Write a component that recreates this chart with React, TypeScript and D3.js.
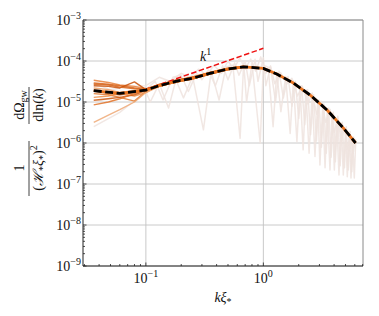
import React, { useEffect, useRef } from 'react'
import * as d3 from 'd3'

// mean spectrum (black dashed, orange underneath)
const meanK = [0.036, 0.06, 0.1, 0.13, 0.18, 0.25, 0.35, 0.49, 0.68, 1.0, 1.3, 1.8, 2.5, 3.5, 4.8, 6.1]
const meanVals = [1.89e-5, 1.62e-5, 1.96e-5, 2.5e-5, 3.2e-5, 3.8e-5, 5.0e-5, 6.3e-5, 7.2e-5, 6.6e-5, 4.8e-5, 2.9e-5, 1.48e-5, 6.3e-6, 2.3e-6, 1.0e-6]

// individual orange runs (low k part)
const orangeK = [0.036, 0.048, 0.06, 0.08, 0.1, 0.13, 0.18, 0.25, 0.35, 0.49, 0.68]
const orangeRuns = [
  [3.4e-5, 3.0e-5, 2.6e-5, 2.4e-5, 2.1e-5, 2.7e-5, 3.3e-5, 4.0e-5, 5.1e-5, 6.4e-5, 7.3e-5],
  [2.9e-5, 2.7e-5, 2.5e-5, 2.2e-5, 2.0e-5, 2.5e-5, 3.2e-5, 3.8e-5, 4.9e-5, 6.2e-5, 7.1e-5],
  [2.5e-5, 2.4e-5, 2.2e-5, 3.1e-5, 2.0e-5, 2.6e-5, 3.0e-5, 3.9e-5, 5.2e-5, 6.5e-5, 7.4e-5],
  [2.2e-5, 2.0e-5, 1.7e-5, 1.9e-5, 1.9e-5, 2.4e-5, 3.1e-5, 3.6e-5, 4.8e-5, 6.0e-5, 7.0e-5],
  [1.9e-5, 1.6e-5, 1.5e-5, 1.7e-5, 2.0e-5, 2.6e-5, 3.3e-5, 3.9e-5, 5.0e-5, 6.3e-5, 7.2e-5],
  [1.6e-5, 1.5e-5, 1.3e-5, 1.05e-5, 1.8e-5, 2.4e-5, 3.0e-5, 3.7e-5, 4.7e-5, 6.1e-5, 7.0e-5],
  [1.3e-5, 1.4e-5, 1.6e-5, 1.4e-5, 1.7e-5, 2.5e-5, 3.2e-5, 4.1e-5, 5.3e-5, 6.6e-5, 7.5e-5],
  [1.1e-5, 1.2e-5, 1.3e-5, 1.5e-5, 1.9e-5, 2.6e-5, 3.4e-5, 3.9e-5, 5.1e-5, 6.3e-5, 7.2e-5],
  [8.5e-6, 1.0e-5, 1.2e-5, 1.6e-5, 2.0e-5, 2.5e-5, 3.2e-5, 3.8e-5, 4.9e-5, 6.2e-5, 7.1e-5],
  [3.2e-6, 4.8e-6, 6.5e-6, 1.0e-5, 1.7e-5, 2.4e-5, 3.1e-5, 3.7e-5, 5.0e-5, 6.4e-5, 7.2e-5],
  [2.7e-5, 2.6e-5, 2.3e-5, 2.1e-5, 2.0e-5, 2.7e-5, 3.4e-5, 4.1e-5, 5.2e-5, 6.5e-5, 7.3e-5]
]
const orangeColors = ['#e8803a', '#d9641a', '#c9520c', '#eea066', '#dd6a22', '#e0782e', '#eb8c45', '#cf5a12', '#e27228', '#efa874', '#d6651c']

// faint noisy runs
const light1K = [0.036, 0.06, 0.1, 0.109, 0.13, 0.156, 0.18, 0.209, 0.25, 0.309, 0.36, 0.42, 0.48, 0.55, 0.634, 0.68, 0.72, 0.8, 0.94, 1.0,
  1.1, 1.21, 1.3, 1.41, 1.55, 1.69, 1.8, 1.93, 2.05, 2.18, 2.3, 2.45, 2.6, 2.75, 2.9, 3.03, 3.2, 3.35, 3.5, 3.69,
  3.85, 4.02, 4.2, 4.4, 4.6, 4.79, 5.0, 5.18, 5.38, 5.57, 5.75, 5.94, 6.1]
const light1Vals = [2.5e-6, 5.6e-6, 1.8e-5, 1.0e-5, 2.8e-5, 7.1e-6, 3.5e-5, 1.26e-5, 4.2e-5, 2.1e-6, 5.6e-5, 1.12e-5, 7.1e-5, 7.9e-5, 1.3e-6, 8.9e-5, 1.0e-5, 8.9e-5, 1.0e-6, 7.9e-5,
  7.1e-5, 2.5e-6, 5.2e-5, 5.8e-6, 4.2e-5, 1.7e-6, 3.3e-5, 1.07e-6, 2.5e-5, 6.8e-7, 2.0e-5, 5.6e-7, 1.5e-5, 4.7e-7, 1.12e-5, 2.9e-7, 8.7e-6, 2.5e-7, 6.9e-6, 2.2e-7,
  5.2e-6, 2.2e-7, 4.0e-6, 1.66e-7, 3.0e-6, 1.66e-7, 2.2e-6, 1.5e-7, 1.66e-6, 1.4e-7, 1.26e-6, 1.4e-7, 1.0e-6]

const light2K = [0.036, 0.06, 0.1, 0.12, 0.14, 0.17, 0.2, 0.23, 0.27, 0.3, 0.34, 0.39, 0.45, 0.5, 0.57, 0.62, 0.7, 0.76, 0.85, 0.9,
  1.0, 1.05, 1.15, 1.27, 1.36, 1.48, 1.62, 1.75, 1.87, 2.0, 2.12, 2.25, 2.38, 2.52, 2.68, 2.83, 2.97, 3.12, 3.27, 3.43,
  3.6, 3.77, 3.94, 4.1, 4.3, 4.5, 4.7, 4.9, 5.08, 5.28, 5.47, 5.66, 5.85, 6.0]
const light2Vals = [1.0e-5, 1.4e-5, 2.0e-5, 3.2e-5, 1.12e-5, 4.0e-5, 4.5e-5, 1.8e-5, 5.0e-5, 3.5e-5, 6.0e-5, 2.5e-5, 7.6e-5, 3.5e-5, 9.0e-5, 4.5e-5, 1.0e-4, 2.5e-5, 1.1e-4, 3.2e-5,
  1.2e-4, 2.5e-5, 7.1e-5, 1.0e-5, 5.6e-5, 1.26e-5, 4.2e-5, 7.9e-6, 3.2e-5, 4.0e-6, 2.5e-5, 2.8e-6, 2.0e-5, 1.6e-6, 1.5e-5, 1.12e-6, 1.12e-5, 7.9e-7, 8.9e-6, 5.6e-7,
  7.1e-6, 4.5e-7, 5.6e-6, 3.5e-7, 4.5e-6, 2.8e-7, 3.2e-6, 2.5e-7, 2.5e-6, 2.2e-7, 1.9e-6, 2.0e-7, 1.4e-6, 1.12e-6]

const light3K = [0.036, 0.05, 0.07, 0.1, 0.13, 0.16, 0.2, 0.24, 0.28, 0.33, 0.38, 0.44, 0.5, 0.56, 0.63, 0.7, 0.78, 0.86, 0.95, 1.05,
  1.15, 1.25, 1.4, 1.6, 1.75, 1.95, 2.15, 2.4, 2.6, 2.85, 3.1, 3.4, 3.7, 4.0, 4.3, 4.6, 4.9, 5.2, 5.5, 5.8, 6.1]
const light3Vals = [2.8e-5, 2.0e-5, 2.4e-5, 2.5e-5, 4.0e-5, 3.2e-5, 5.0e-5, 4.0e-5, 6.3e-5, 4.5e-5, 7.9e-5, 5.0e-5, 1.0e-4, 6.3e-5, 1.2e-4, 6.3e-5, 1.12e-4, 5.6e-5, 1.26e-4, 5.0e-5,
  7.6e-5, 2.8e-5, 5.2e-5, 2.8e-5, 3.8e-5, 1.4e-5, 2.4e-5, 8.9e-6, 1.66e-5, 5.0e-6, 1.05e-5, 3.2e-6, 6.6e-6, 1.8e-6, 4.0e-6, 1.12e-6, 2.4e-6, 7.1e-7, 1.6e-6, 5.6e-7, 1.26e-6]

// k^1 guide
const guideK = [0.1, 1.0]
const guideVals = [2.04e-5, 2.04e-4]

const yTickExps = [-9, -8, -7, -6, -5, -4, -3]
const xTickExps = [-1, 0]

const W = 379
const H = 316
const M = { left: 83, right: 363, top: 20, bottom: 266 }

const App = () => {
  const svgRef = useRef<SVGSVGElement>(null)

  useEffect(() => {
    const svg = d3.select(svgRef.current)
    svg.selectAll('*').remove()

    const x = d3.scaleLog().domain([Math.pow(10, -1.535), Math.pow(10, 0.848)]).range([M.left, M.right])
    const y = d3.scaleLog().domain([1e-9, 1e-3]).range([M.bottom, M.top])

    svg.append('rect').attr('width', W).attr('height', H).attr('fill', '#fff')

    // grid
    const grid = svg.append('g').attr('stroke', '#c4c4c4').attr('stroke-width', 0.9)
    yTickExps.forEach((e) => {
      grid.append('line').attr('x1', M.left).attr('x2', M.right)
        .attr('y1', y(Math.pow(10, e))).attr('y2', y(Math.pow(10, e)))
    })
    xTickExps.forEach((e) => {
      grid.append('line').attr('y1', M.top).attr('y2', M.bottom)
        .attr('x1', x(Math.pow(10, e))).attr('x2', x(Math.pow(10, e)))
    })

    const line = d3.line<[number, number]>().x((d) => x(d[0])).y((d) => y(d[1]))
    const zip = (ks: number[], vs: number[]) => ks.map((k, i) => [k, vs[i]] as [number, number])

    const plot = svg.append('g')

    // faint runs
    ;[[light1K, light1Vals], [light2K, light2Vals], [light3K, light3Vals]].forEach(([ks, vs]) => {
      plot.append('path').attr('d', line(zip(ks, vs)))
        .attr('fill', 'none').attr('stroke', '#eee3de').attr('stroke-opacity', 0.85)
        .attr('stroke-width', 1.5).attr('stroke-linejoin', 'round')
    })

    // orange runs
    orangeRuns.forEach((vs, i) => {
      plot.append('path').attr('d', line(zip(orangeK, vs)))
        .attr('fill', 'none').attr('stroke', orangeColors[i]).attr('stroke-opacity', 0.85)
        .attr('stroke-width', 1.4).attr('stroke-linejoin', 'round')
    })

    // k^1 guide
    plot.append('path').attr('d', line(zip(guideK, guideVals)))
      .attr('fill', 'none').attr('stroke', '#ee1111').attr('stroke-width', 1.5)
      .attr('stroke-dasharray', '5.5,2.5')

    // mean
    plot.append('path').attr('d', line(zip(meanK, meanVals)))
      .attr('fill', 'none').attr('stroke', '#ea7420').attr('stroke-width', 2.8)
      .attr('stroke-linejoin', 'round')
    plot.append('path').attr('d', line(zip(meanK, meanVals)))
      .attr('fill', 'none').attr('stroke', '#000').attr('stroke-width', 2.8)
      .attr('stroke-dasharray', '8,3.5')

    // spines
    svg.append('line').attr('x1', M.left).attr('x2', M.right).attr('y1', M.top).attr('y2', M.top)
      .attr('stroke', '#8a8a8a').attr('stroke-width', 1)
    svg.append('line').attr('x1', M.right).attr('x2', M.right).attr('y1', M.top).attr('y2', M.bottom)
      .attr('stroke', '#8a8a8a').attr('stroke-width', 1)
    svg.append('line').attr('x1', M.left).attr('x2', M.left).attr('y1', M.top).attr('y2', M.bottom)
      .attr('stroke', '#222').attr('stroke-width', 1)
    svg.append('line').attr('x1', M.left).attr('x2', M.right).attr('y1', M.bottom).attr('y2', M.bottom)
      .attr('stroke', '#222').attr('stroke-width', 1)

    // ticks (inward)
    const ticks = svg.append('g').attr('stroke', '#222').attr('stroke-width', 0.8)
    for (let e = -9; e < -3; e++) {
      for (let m = 2; m <= 9; m++) {
        const yy = y(m * Math.pow(10, e))
        ticks.append('line').attr('x1', M.left).attr('x2', M.left + 2).attr('y1', yy).attr('y2', yy)
      }
    }
    yTickExps.forEach((e) => {
      const yy = y(Math.pow(10, e))
      ticks.append('line').attr('x1', M.left).attr('x2', M.left + 3.5).attr('y1', yy).attr('y2', yy)
    })
    const [x0, x1] = x.domain()
    for (let e = -2; e <= 0; e++) {
      for (let m = 2; m <= 9; m++) {
        const v = m * Math.pow(10, e)
        if (v < x0 || v > x1) continue
        ticks.append('line').attr('x1', x(v)).attr('x2', x(v)).attr('y1', M.bottom).attr('y2', M.bottom - 2)
      }
    }
    xTickExps.forEach((e) => {
      const xx = x(Math.pow(10, e))
      ticks.append('line').attr('x1', xx).attr('x2', xx).attr('y1', M.bottom).attr('y2', M.bottom - 3.5)
    })

    const font = 'Liberation Serif, DejaVu Serif, serif'

    // y tick labels
    yTickExps.forEach((e) => {
      const t = svg.append('text').attr('x', M.left - 2).attr('y', y(Math.pow(10, e)) + 5)
        .attr('text-anchor', 'end').attr('font-family', font).attr('font-size', 14).attr('fill', '#111')
      t.append('tspan').text('10')
      t.append('tspan').attr('dy', -6).attr('font-size', 10).text('\u2212' + Math.abs(e))
    })

    // x tick labels
    xTickExps.forEach((e) => {
      const t = svg.append('text').attr('x', x(Math.pow(10, e))).attr('y', 283)
        .attr('text-anchor', 'middle').attr('font-family', font).attr('font-size', 14).attr('fill', '#111')
      t.append('tspan').text('10')
      t.append('tspan').attr('dy', -6).attr('font-size', 10).text(e < 0 ? '\u2212' + Math.abs(e) : String(e))
    })

    // x label
    const xl = svg.append('text').attr('x', (M.left + M.right) / 2).attr('y', 302)
      .attr('text-anchor', 'middle').attr('font-family', font).attr('font-size', 14).attr('fill', '#111')
    xl.append('tspan').attr('font-style', 'italic').text('k\u03be')
    xl.append('tspan').attr('dy', 3).attr('font-size', 10).text('*')

    // k^1 annotation
    const ann = svg.append('text').attr('x', 200).attr('y', 61)
      .attr('font-family', font).attr('font-size', 14).attr('fill', '#111')
    ann.append('tspan').attr('font-style', 'italic').text('k')
    ann.append('tspan').attr('dy', -6).attr('font-size', 10).text('1')

    // y label (two stacked fractions, rotated)
    const yl = svg.append('g').attr('transform', 'translate(29,140) rotate(-90)')
      .attr('font-family', font).attr('font-size', 14).attr('fill', '#111')
    yl.append('line').attr('x1', -56).attr('x2', -1).attr('y1', 0).attr('y2', 0).attr('stroke', '#111').attr('stroke-width', 0.8)
    yl.append('line').attr('x1', 16).attr('x2', 53).attr('y1', 0).attr('y2', 0).attr('stroke', '#111').attr('stroke-width', 0.8)
    yl.append('text').attr('x', -28).attr('y', -5).attr('text-anchor', 'middle').text('1')
    const den1 = yl.append('text').attr('x', -28).attr('y', 14).attr('text-anchor', 'middle')
    den1.append('tspan').text('(')
    den1.append('tspan').attr('font-style', 'italic').text('\u210b')
    den1.append('tspan').attr('dy', 3).attr('font-size', 10).text('*')
    den1.append('tspan').attr('dy', -3).attr('font-style', 'italic').text('\u03be')
    den1.append('tspan').attr('dy', 3).attr('font-size', 10).text('*')
    den1.append('tspan').attr('dy', -3).text(')')
    den1.append('tspan').attr('dy', -6).attr('font-size', 10).text('2')
    const num2 = yl.append('text').attr('x', 35).attr('y', -5).attr('text-anchor', 'middle')
    num2.append('tspan').text('d\u03a9')
    num2.append('tspan').attr('dy', 3).attr('font-size', 10).text('gw')
    const den2 = yl.append('text').attr('x', 35).attr('y', 14).attr('text-anchor', 'middle')
    den2.append('tspan').text('dln(')
    den2.append('tspan').attr('font-style', 'italic').text('k')
    den2.append('tspan').text(')')
  }, [])

  return (
    <svg
      ref={svgRef}
      width={W}
      height={H}
      style={{ position: 'absolute', left: 0, top: 0, display: 'block' }}
    />
  )
}

export default App
